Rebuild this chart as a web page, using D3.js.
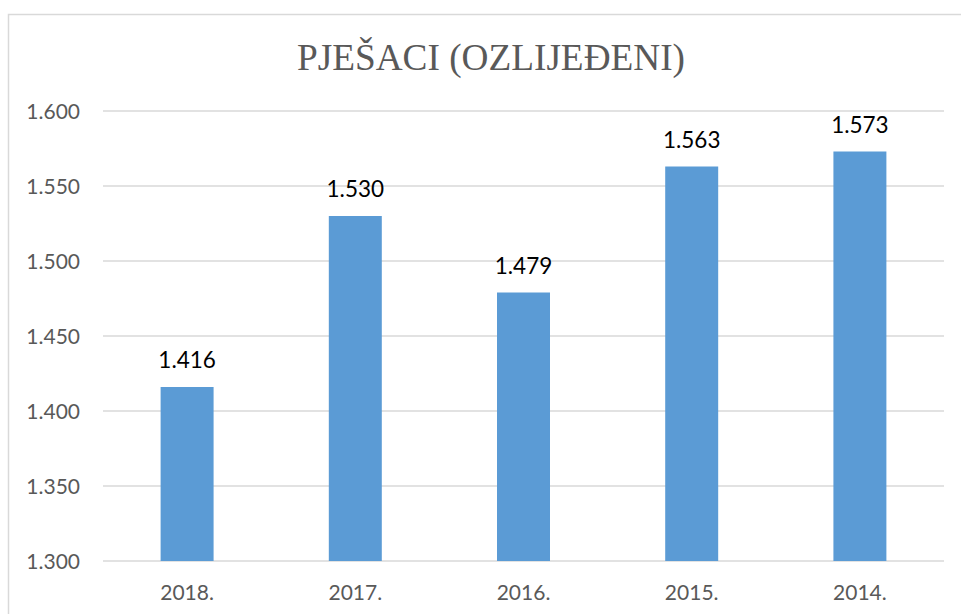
<!DOCTYPE html>
<html><head><meta charset="utf-8">
<script src="https://cdn.jsdelivr.net/npm/d3@7"></script>
<style>html,body{margin:0;padding:0;background:#fff;}svg{display:block;}</style>
</head><body>
<script>
const categories = ["2018.", "2017.", "2016.", "2015.", "2014."];
const values = [1.416, 1.530, 1.479, 1.563, 1.573];
const yTicks = [1.300, 1.350, 1.400, 1.450, 1.500, 1.550, 1.600];
const title = "PJEŠACI (OZLIJEĐENI)";

const W = 961, H = 614;
const svg = d3.select("body").append("svg").attr("width", W).attr("height", H);

svg.append("rect").attr("x", 8.5).attr("y", 14.5).attr("width", W).attr("height", H)
  .attr("fill", "#fff").attr("stroke", "#d9d9d9").attr("stroke-width", 1.5);

const x = d3.scaleBand().domain(categories).range([103, 944]).paddingInner(0.685).paddingOuter(0.3425);
const y = d3.scaleLinear().domain([1.3, 1.6]).range([561, 111]);

const fmt = v => d3.format(".3f")(v);

// gridlines
svg.append("g").selectAll("line").data(yTicks).join("line")
  .attr("x1", 103).attr("x2", 944)
  .attr("y1", d => y(d)).attr("y2", d => y(d))
  .attr("stroke", "#d9d9d9").attr("stroke-width", 1.5);

// y labels
svg.append("g").selectAll("text").data(yTicks).join("text")
  .attr("x", 80).attr("y", d => y(d)).attr("dy", "0.36em")
  .attr("text-anchor", "end")
  .attr("font-family", "Lato, sans-serif").attr("font-size", 21).attr("fill", "#595959")
  .text(d => fmt(d));

// bars
svg.append("g").selectAll("rect").data(values).join("rect")
  .attr("x", (d, i) => x(categories[i]))
  .attr("width", x.bandwidth())
  .attr("y", d => y(d))
  .attr("height", d => y(1.3) - y(d))
  .attr("fill", "#5b9bd5");

// data labels
svg.append("g").selectAll("text").data(values).join("text")
  .attr("x", (d, i) => x(categories[i]) + x.bandwidth() / 2)
  .attr("y", d => y(d) - 19)
  .attr("text-anchor", "middle")
  .attr("font-family", "Lato, sans-serif").attr("font-size", 22.5).attr("fill", "#000")
  .text(d => fmt(d));

// x labels
svg.append("g").selectAll("text").data(categories).join("text")
  .attr("x", d => x(d) + x.bandwidth() / 2)
  .attr("y", 600)
  .attr("text-anchor", "middle")
  .attr("font-family", "Lato, sans-serif").attr("font-size", 21).attr("fill", "#595959")
  .text(d => d);

// title
svg.append("text")
  .attr("x", 491).attr("y", 69.5)
  .attr("text-anchor", "middle")
  .attr("font-family", "'Liberation Serif', serif").attr("font-size", 37).attr("fill", "#595959")
  .attr("textLength", 388).attr("lengthAdjust", "spacingAndGlyphs")
  .text(title);
</script>
</body></html>
